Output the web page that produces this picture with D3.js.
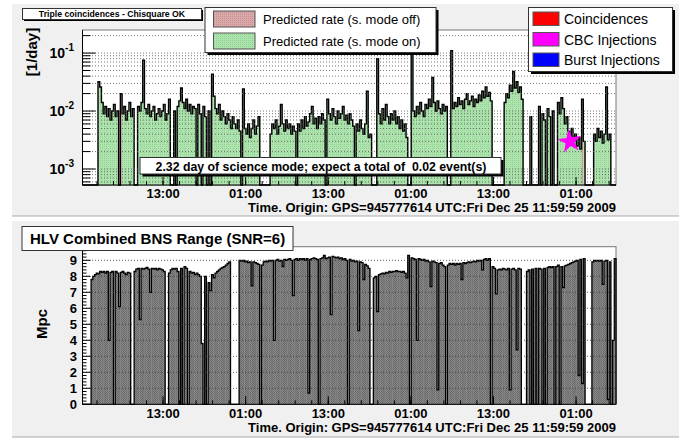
<!DOCTYPE html>
<html>
<head>
<meta charset="utf-8">
<script src="https://cdn.jsdelivr.net/npm/d3@7"></script>
<style>
  body { margin: 0; background: #fff; }
  text { font-family: "Liberation Sans", Arial, Helvetica, sans-serif; }
</style>
</head>
<body>
<div id="viz"></div>
<script>
// time axis in hours (13 = 13:00 on the first day), one bin = 15 min
const binStart = 1.3;
const binHours = 0.25;
const xTicks = [13, 25, 37, 49, 61, 73];

// predicted triple coincidence rate, in units of 1e-3 per day (0 = no science data)
const rateE3 = [
  0, 0, 0, 0, 0, 0, 0, 0, 0, 32,
  26, 14, 9, 12, 8, 11, 7, 10, 13, 8,
  10, 0, 20, 9, 12, 7, 10, 14, 8, 11,
  0, 0, 12, 10, 14, 75, 11, 9, 13, 8,
  10, 12, 7, 9, 11, 8, 10, 13, 7, 9,
  16, 0, 0, 10, 0, 12, 15, 25, 14, 11,
  16, 10, 13, 9, 12, 11, 0, 13, 9, 0,
  12, 8, 0, 10, 0, 43, 18, 11, 9, 13,
  7, 10, 8, 6, 9, 7, 5, 8, 6, 5,
  7, 4.5, 0, 24, 5, 4, 6, 3.5, 5, 7,
  4, 5.5, 8, 0, 0, 0, 0, 0, 0, 4,
  6, 5, 7, 4, 5.5, 13, 6, 4.5, 7, 5,
  6, 4, 5.5, 4.5, 0, 6, 4.5, 7, 5, 8,
  5.5, 6.5, 9, 12, 6, 7.5, 5, 8, 6, 9,
  7, 0, 16, 9, 7, 11, 8, 6, 10, 7.5,
  9, 12, 7, 8.5, 6, 9, 7, 5.5, 0, 6,
  4.5, 7, 5, 4, 6, 22, 3.5, 4, 0, 0,
  0, 80, 9, 6, 11, 7, 13, 8, 6, 9,
  7, 10, 6, 8, 5, 7, 4.5, 6, 3.5, 0,
  0, 115, 10, 8, 12, 9, 14, 10, 8, 13,
  11, 16, 12, 38, 14, 10, 15, 11, 9, 13,
  10, 12, 0, 0, 110, 11, 14, 12, 17, 13,
  15, 11, 16, 20, 13, 15, 18, 12, 16, 14,
  19, 15, 22, 17, 26, 18, 21, 15, 0, 0,
  0, 0, 0, 0, 0, 14, 20, 17, 28, 22,
  48, 25, 32, 21, 26, 16, 0, 0, 0, 0,
  8, 0, 0, 0, 0, 12, 0, 9, 7, 0,
  11, 8, 0, 10, 0, 0, 14, 9, 17, 11,
  6, 8, 4.5, 3.5, 5, 3, 4, 2.5, 3.5, 2.2,
  16, 3, 0, 0, 0, 0, 0, 4, 3, 5,
  3.5, 4.5, 2.8, 4, 26, 3.2, 4, 0, 0, 0
];
// intervals (hours) where the rate is drawn as "science mode off"
const modeOff = [[6.8, 7.05], [73.8, 74.05]];
// found events: [hour, rate per day]
const coincidences = [];
const cbcInjections = [[72.1, 0.003]];
const burstInjections = [];

// HLV combined BNS range in Mpc (0 = no data)
const bnsRange = [
  0, 0, 0, 0, 0, 7.8, 8.0, 8.1, 8.2, 8.15,
  8.3, 8.25, 8.3, 8.2, 8.3, 4.0, 8.25, 8.3, 0, 8.3,
  8.2, 6.1, 8.25, 8.3, 8.2, 8.1, 8.25, 8.2, 0, 0,
  8.3, 8.45, 8.5, 5.3, 8.5, 8.45, 8.5, 8.55, 8.45, 7.0,
  8.5, 8.45, 8.5, 8.4, 8.5, 8.45, 8.4, 8.3, 0, 0,
  8.2, 8.4, 8.5, 8.45, 8.5, 8.3, 0, 8.5, 0, 8.6,
  8.5, 0, 8.3, 8.2, 8.25, 8.1, 8.2, 8.1, 8.0, 3.8,
  0, 8.0, 0, 7.6, 7.1, 8.1, 7.9, 8.2, 8.3, 8.4,
  8.5, 8.55, 8.6, 8.7, 8.8, 8.9, 0, 0, 0, 0,
  0, 9.0, 8.95, 9.0, 8.9, 8.95, 8.85, 8.9, 7.4, 8.9,
  8.85, 8.8, 8.75, 0, 8.7, 8.9, 8.95, 8.9, 9.0, 8.95,
  9.0, 4.0, 9.0, 9.05, 8.95, 9.0, 8.6, 9.05, 9.0, 9.05,
  9.1, 9.0, 6.8, 9.05, 9.1, 9.0, 9.1, 9.05, 9.1, 9.0,
  9.1, 0.7, 9.05, 9.1, 9.15, 9.1, 9.05, 0, 9.1, 9.15,
  9.3, 9.1, 9.15, 9.2, 5.6, 9.25, 9.2, 9.15, 9.2, 9.1,
  9.15, 9.05, 9.1, 9.0, 0, 9.05, 8.95, 9.0, 8.9, 8.95,
  4.6, 8.9, 8.85, 7.8, 8.75, 8.65, 8.5, 0, 0, 7.9,
  8.0, 5.8, 8.1, 8.15, 8.2, 8.15, 8.25, 8.2, 8.3, 8.25,
  8.3, 8.3, 8.35, 8.3, 8.3, 8.25, 8.3, 8.2, 7.9, 9.3,
  0, 9.15, 9.1, 9.05, 4.0, 9.1, 9.05, 9.0, 9.05, 8.95,
  9.0, 8.9, 7.35, 8.95, 8.9, 8.85, 0.9, 8.8, 8.85, 8.7,
  8.6, 0, 8.7, 8.8, 8.75, 8.8, 8.7, 8.8, 8.75, 8.8,
  7.8, 8.85, 8.8, 8.85, 8.9, 8.85, 8.9, 8.95, 8.9, 9.0,
  8.95, 9.0, 8.4, 9.05, 9.1, 9.0, 9.1, 0, 8.6, 8.5,
  6.9, 8.4, 8.45, 8.4, 8.5, 8.45, 8.4, 8.5, 0.9, 8.45,
  8.5, 8.4, 3.4, 8.5, 8.45, 0, 0, 0, 8.3, 8.4,
  0, 8.45, 0, 8.5, 0, 8.5, 8.45, 0, 8.5, 0,
  8.55, 8.6, 8.55, 8.6, 0, 8.6, 8.7, 0, 8.6, 7.3,
  8.65, 8.7, 8.75, 8.8, 8.85, 8.9, 8.95, 9.0, 1.8, 9.05,
  1.3, 9.1, 0, 0, 0, 0, 8.9, 9.0, 8.95, 9.0,
  8.95, 9.0, 7.5, 8.95, 9.0, 0.3, 8.9, 0, 4.0, 9.1
];
const bnsTicks = [0, 1, 2, 3, 4, 5, 6, 7, 8, 9];

const W = 679, H = 439;
const svg = d3.select('#viz').append('svg').attr('width', W).attr('height', H);

// fill patterns (ROOT-like stipple)
const defs = svg.append('defs');
const pg = defs.append('pattern').attr('id', 'pGreen').attr('width', 2).attr('height', 2).attr('patternUnits', 'userSpaceOnUse');
pg.append('rect').attr('width', 2).attr('height', 2).attr('fill', '#ade3ad');
pg.append('rect').attr('width', 1).attr('height', 1).attr('fill', '#94d194');
const pp = defs.append('pattern').attr('id', 'pPink').attr('width', 2).attr('height', 2).attr('patternUnits', 'userSpaceOnUse');
pp.append('rect').attr('width', 2).attr('height', 2).attr('fill', '#dcaaaa');
pp.append('rect').attr('width', 1).attr('height', 1).attr('fill', '#c48f8f');
const pgr = defs.append('pattern').attr('id', 'pGray').attr('width', 2).attr('height', 2).attr('patternUnits', 'userSpaceOnUse');
pgr.append('rect').attr('width', 2).attr('height', 2).attr('fill', '#858585');
pgr.append('rect').attr('width', 1).attr('height', 1).attr('fill', '#6a6a6a');
pgr.append('rect').attr('x', 1).attr('y', 1).attr('width', 1).attr('height', 1).attr('fill', '#6a6a6a');

// pads
svg.append('rect').attr('x', 12).attr('y', 4).attr('width', 667).attr('height', 212).attr('fill', '#f0f0f0');
svg.append('line').attr('x1', 12).attr('x2', 679).attr('y1', 216).attr('y2', 216).attr('stroke', '#aaa');
svg.append('rect').attr('x', 12).attr('y', 221).attr('width', 667).attr('height', 216).attr('fill', '#f0f0f0');
svg.append('line').attr('x1', 12).attr('x2', 679).attr('y1', 437).attr('y2', 437).attr('stroke', '#aaa');

const nBins = rateE3.length;
const x = d3.scaleLinear().domain([binStart, binStart + nBins * binHours]).range([82.5, 616]);
const yTop = d3.scaleLog().domain([5.3e-4, 0.25]).range([185, 30]);
const yBot = d3.scaleLinear().domain([0, 9.85]).range([404.3, 246.7]);

const binX0 = i => x(binStart + i * binHours);
const binX1 = i => x(binStart + (i + 1) * binHours);
const isOff = i => {
  const h = binStart + (i + 0.5) * binHours;
  return modeOff.some(r => h >= r[0] && h <= r[1]);
};

// histogram outline as a step path
function outline(values, yv, base) {
  let d = `M${binX0(0)},${base}`;
  values.forEach((v, i) => {
    const y = v > 0 ? yv(v) : base;
    d += `L${binX0(i)},${y}L${binX1(i)},${y}`;
  });
  return d + `L${binX1(values.length - 1)},${base}`;
}

function xAxis(g, y0, labelY, titleY) {
  d3.range(1, 79, 2.4).forEach(h => {
    if (x(h) < 83 || x(h) > 615) return;
    g.append('line').attr('x1', x(h)).attr('x2', x(h)).attr('y1', y0).attr('y2', y0 - 4).attr('stroke', '#000');
  });
  xTicks.forEach(h => {
    g.append('line').attr('x1', x(h)).attr('x2', x(h)).attr('y1', y0).attr('y2', y0 - 8).attr('stroke', '#000');
    g.append('text').attr('x', x(h)).attr('y', labelY).attr('text-anchor', 'middle')
      .attr('font-size', 13).attr('font-weight', 'bold').text(String(h % 24).padStart(2, '0') + ':00');
  });
  g.append('text').attr('x', 616).attr('y', titleY).attr('text-anchor', 'end')
    .attr('font-size', 13).attr('font-weight', 'bold')
    .text('Time. Origin: GPS=945777614 UTC:Fri Dec 25 11:59:59 2009');
}

// boxes with ROOT shadow
function pave(g, x0, y0, w, h, shadow) {
  if (shadow) g.append('rect').attr('x', x0 + shadow).attr('y', y0 + shadow).attr('width', w).attr('height', h).attr('fill', '#000');
  g.append('rect').attr('x', x0).attr('y', y0).attr('width', w).attr('height', h).attr('fill', '#fff').attr('stroke', '#333');
}

// ---------------- top panel ----------------
const topG = svg.append('g');
topG.append('rect').attr('x', 82.5).attr('y', 30).attr('width', 533.5).attr('height', 155)
  .attr('fill', '#fff').attr('stroke', '#777');

topG.selectAll('rect.bin').data(rateE3.map((v, i) => ({v, i})).filter(d => d.v > 0))
  .join('rect').attr('class', 'bin')
  .attr('x', d => binX0(d.i)).attr('width', d => binX1(d.i) - binX0(d.i) + 0.4)
  .attr('y', d => yTop(d.v * 1e-3)).attr('height', d => 185 - yTop(d.v * 1e-3))
  .attr('fill', d => isOff(d.i) ? 'url(#pPink)' : 'url(#pGreen)');

topG.append('path').attr('d', outline(rateE3, v => yTop(v * 1e-3), 185))
  .attr('fill', 'none').attr('stroke', '#000').attr('stroke-width', 1.4);

// log grid + ticks
const logTicks = [];
[-4, -3, -2, -1].forEach(e => d3.range(1, 10).forEach(k => {
  const t = k * Math.pow(10, e);
  if (t > 5.3e-4 && t < 0.25) logTicks.push({t, major: k === 1});
}));
logTicks.forEach(d => {
  const y = yTop(d.t);
  topG.append('line').attr('x1', 83).attr('x2', 616).attr('y1', y).attr('y2', y)
    .attr('stroke', '#555').attr('stroke-dasharray', '1,2').attr('stroke-width', 0.8);
  topG.append('line').attr('x1', 82.5).attr('x2', 82.5 + (d.major ? 13 : 8)).attr('y1', y).attr('y2', y).attr('stroke', '#000');
});
[1e-3, 1e-2, 1e-1].forEach(t => {
  const tx = topG.append('text').attr('x', 74).attr('y', yTop(t) + 5).attr('text-anchor', 'end')
    .attr('font-weight', 'bold').attr('font-size', 14);
  tx.append('tspan').text('10');
  tx.append('tspan').attr('font-size', 10).attr('dy', -7).text(String(Math.round(Math.log10(t))));
});
topG.append('line').attr('x1', 82.5).attr('x2', 82.5).attr('y1', 30).attr('y2', 185).attr('stroke', '#000');
topG.append('line').attr('x1', 82.5).attr('x2', 616).attr('y1', 185).attr('y2', 185).attr('stroke', '#000');
xAxis(topG, 185, 198, 212);

topG.append('text').attr('transform', 'translate(37,52) rotate(-90)').attr('text-anchor', 'middle')
  .attr('font-size', 15).attr('font-weight', 'bold').text('[1/day]');

// found events
const star = d3.symbol(d3.symbolStar).size(175);
cbcInjections.forEach(p => topG.append('path').attr('d', star)
  .attr('transform', `translate(${x(p[0])},${yTop(p[1])}) rotate(-8)`).attr('fill', '#ff00ff'));
coincidences.forEach(p => topG.append('path').attr('d', star)
  .attr('transform', `translate(${x(p[0])},${yTop(p[1])})`).attr('fill', '#ff0000'));
burstInjections.forEach(p => topG.append('path').attr('d', star)
  .attr('transform', `translate(${x(p[0])},${yTop(p[1])})`).attr('fill', '#0000ff'));

pave(topG, 22.5, 8.5, 179, 11, 1.5);
topG.append('text').attr('x', 112).attr('y', 17).attr('text-anchor', 'middle')
  .attr('font-size', 8.7).attr('font-weight', 'bold').text('Triple coincidences - Chisquare OK');

pave(topG, 140, 157.5, 361, 16.5, 2.5);
topG.append('text').attr('x', 321).attr('y', 170.5).attr('text-anchor', 'middle').style('white-space', 'pre')
  .attr('font-size', 12.3).attr('font-weight', 'bold')
  .text('2.32 day of science mode; expect a total of  0.02 event(s)');

// legend 1
const leg1 = [
  {label: 'Predicted rate (s. mode off)', fill: 'url(#pPink)'},
  {label: 'Predicted rate (s. mode on)', fill: 'url(#pGreen)'}
];
pave(topG, 205, 7.5, 231, 45, 2.5);
leg1.forEach((d, i) => {
  topG.append('rect').attr('x', 213.5).attr('y', 11 + i * 22).attr('width', 41.5).attr('height', 16)
    .attr('fill', d.fill).attr('stroke', '#555');
  topG.append('text').attr('x', 263).attr('y', 24 + i * 22).attr('font-size', 13).text(d.label);
});

// legend 2
const leg2 = [
  {label: 'Coincidences', fill: '#ff0000'},
  {label: 'CBC Injections', fill: '#ff00ff'},
  {label: 'Burst Injections', fill: '#0000ff'}
];
pave(topG, 528.5, 7.5, 144, 64, 2.5);
leg2.forEach((d, i) => {
  topG.append('rect').attr('x', 533).attr('y', 12 + i * 20.5).attr('width', 26).attr('height', 13.5)
    .attr('fill', d.fill).attr('stroke', '#555');
  topG.append('text').attr('x', 564).attr('y', 24 + i * 20.5).attr('font-size', 14).text(d.label);
});

// ---------------- bottom panel ----------------
const botG = svg.append('g');
botG.append('rect').attr('x', 82.5).attr('y', 246.7).attr('width', 533.5).attr('height', 157.6)
  .attr('fill', '#fff').attr('stroke', '#777');

botG.selectAll('rect.bin').data(bnsRange.map((v, i) => ({v, i})).filter(d => d.v > 0))
  .join('rect').attr('class', 'bin')
  .attr('x', d => binX0(d.i)).attr('width', d => binX1(d.i) - binX0(d.i) + 0.4)
  .attr('y', d => yBot(d.v)).attr('height', d => 404.3 - yBot(d.v))
  .attr('fill', 'url(#pGray)');

botG.append('path').attr('d', outline(bnsRange, yBot, 404.3))
  .attr('fill', 'none').attr('stroke', '#000').attr('stroke-width', 1.3);

bnsTicks.forEach(t => {
  const y = yBot(t);
  if (t > 0) botG.append('line').attr('x1', 83).attr('x2', 616).attr('y1', y).attr('y2', y)
    .attr('stroke', '#333').attr('stroke-dasharray', '1,2').attr('stroke-width', 0.8);
  botG.append('text').attr('x', 77).attr('y', y + 5).attr('text-anchor', 'end')
    .attr('font-size', 13).attr('font-weight', 'bold').text(t);
});
d3.range(0, 9.85, 0.2).forEach((t, i) => {
  const y = yBot(t);
  botG.append('line').attr('x1', 82.5).attr('x2', 82.5 + (i % 5 === 0 ? 8 : 4)).attr('y1', y).attr('y2', y).attr('stroke', '#000');
});
botG.append('line').attr('x1', 82.5).attr('x2', 82.5).attr('y1', 246.7).attr('y2', 404.3).attr('stroke', '#000');
botG.append('line').attr('x1', 82.5).attr('x2', 616).attr('y1', 404.3).attr('y2', 404.3).attr('stroke', '#000');
xAxis(botG, 404.3, 418, 432);

botG.append('text').attr('transform', 'translate(47,324) rotate(-90)').attr('text-anchor', 'middle')
  .attr('font-size', 15).attr('font-weight', 'bold').text('Mpc');

pave(botG, 22, 226.5, 271, 24, 0);
botG.append('text').attr('x', 30).attr('y', 244).attr('font-size', 15).attr('font-weight', 'bold')
  .text('HLV Combined BNS Range (SNR=6)');
</script>
</body>
</html>
